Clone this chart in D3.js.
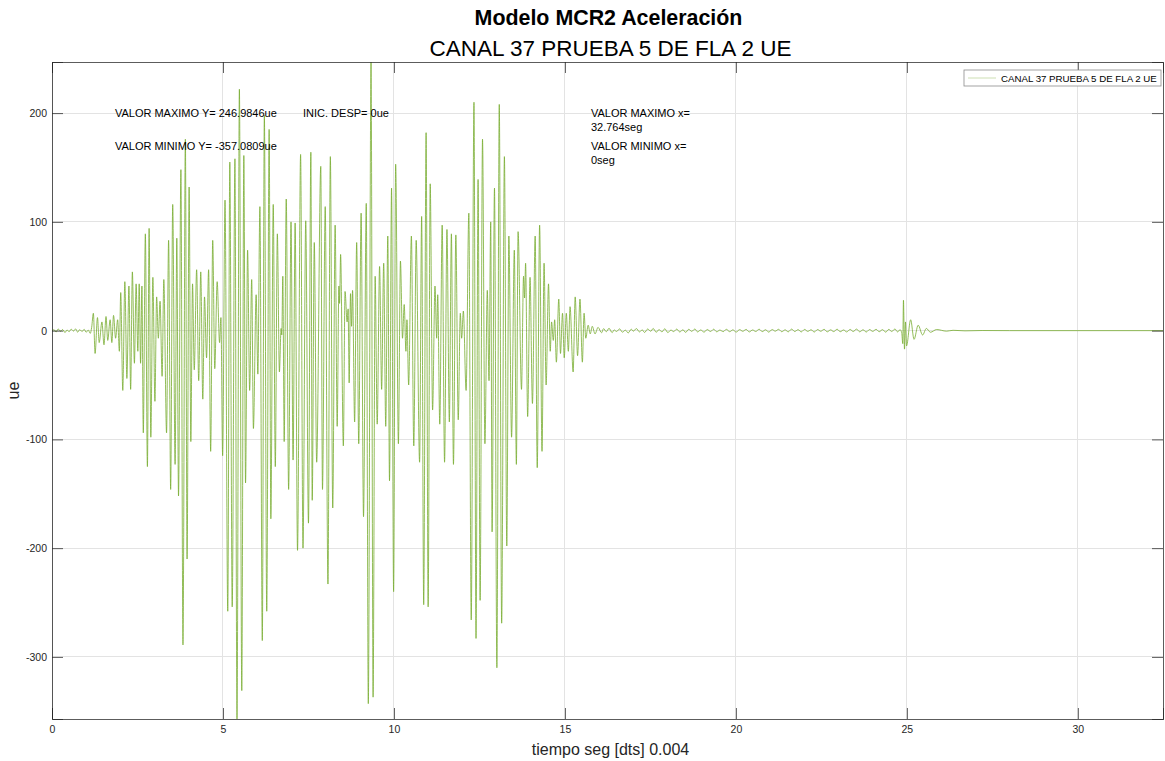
<!DOCTYPE html>
<html>
<head>
<meta charset="utf-8">
<script src="https://cdn.jsdelivr.net/npm/d3@7"></script>
<style>
  html, body { margin: 0; padding: 0; background: #fff; }
  svg { display: block; font-family: "Liberation Sans", Arial, Helvetica, sans-serif; }
</style>
</head>
<body>
<svg id="chart" width="1165" height="761"></svg>
<script>
// Channel 37 acceleration record: [time (s), value (ue)] turning points
const accel = [
  [0, 0], [0.06, 0.8], [0.12, -1.2], [0.18, 1.5], [0.25, -0.5], [0.31, 1.0], [0.38, -1.8],
  [0.44, 0.6], [0.50, -1.0], [0.56, 1.3], [0.63, -0.4], [0.69, 1.6], [0.75, -1.4], [0.81, 0.9],
  [0.88, -0.8], [0.94, 1.2], [1.00, -1.5], [1.06, 0.5], [1.12, -2.5], [1.16, 3],
  [1.21, 16], [1.26, -21], [1.33, 12], [1.38, -11], [1.46, 8], [1.52, -13], [1.58, 13],
  [1.63, -9], [1.70, 10], [1.75, -11], [1.80, 14], [1.86, -7], [1.92, 10], [1.97, -19],
  [2.01, 35], [2.07, -55], [2.13, 45], [2.19, -44], [2.25, 41], [2.30, -54], [2.35, 54],
  [2.41, -30], [2.46, 43], [2.51, -19], [2.55, 43], [2.59, -30], [2.63, 41], [2.67, -94],
  [2.73, 89], [2.79, -125], [2.84, 94], [2.89, -98], [2.95, 49], [3.01, -65], [3.06, 31],
  [3.11, -7], [3.16, 27], [3.22, -42], [3.27, 47], [3.35, -94], [3.41, 83], [3.47, -146],
  [3.53, 116], [3.60, -123], [3.65, 85], [3.70, -152], [3.77, 148], [3.83, -289], [3.90, 176],
  [3.95, -210], [4.01, 132], [4.06, -102], [4.11, 43], [4.16, -36], [4.23, 56], [4.29, -46],
  [4.35, 54], [4.41, -63], [4.46, 31], [4.52, -25], [4.58, 56], [4.64, -111], [4.70, 83],
  [4.76, -35], [4.83, 45], [4.90, -11], [4.94, 12], [4.99, -115], [5.06, 120], [5.14, -258],
  [5.20, 155], [5.27, -254], [5.35, 158], [5.41, -357.0809], [5.48, 222], [5.55, -331],
  [5.61, 161], [5.66, -140], [5.72, 74], [5.78, -55], [5.84, 47], [5.89, -90], [5.97, 33],
  [6.02, -40], [6.08, 114], [6.15, -285], [6.21, 198], [6.28, -258], [6.35, 185], [6.40, -173],
  [6.47, 116], [6.53, -125], [6.59, 89], [6.65, -38], [6.70, 2], [6.72, -4], [6.75, 50],
  [6.79, -102], [6.85, 121], [6.92, -146], [6.99, 100], [7.05, -119], [7.11, 99], [7.18, -202],
  [7.27, 162], [7.34, -200], [7.42, 101], [7.50, -177], [7.57, 164], [7.61, -156], [7.67, 81],
  [7.74, -121], [7.86, 151], [7.91, -146], [7.99, 114], [8.07, -233], [8.14, 160], [8.21, -163],
  [8.28, 97], [8.34, -88], [8.39, 41], [8.41, 25], [8.44, 70], [8.52, -106], [8.57, 36],
  [8.63, 8], [8.66, 20], [8.69, -48], [8.73, 34], [8.76, 4], [8.79, 37], [8.85, -84],
  [8.91, 81], [8.97, -104], [9.04, 108], [9.11, -171], [9.19, 117], [9.25, -343],
  [9.33, 246.9846], [9.39, -337], [9.45, 50], [9.51, -86], [9.58, 59], [9.64, -54], [9.70, 62],
  [9.76, -88], [9.82, 87], [9.87, -138], [9.93, 131], [9.99, -240], [10.05, 153], [10.13, -104],
  [10.19, 64], [10.25, -7], [10.30, 24], [10.35, -19], [10.38, 10], [10.43, -50], [10.51, 87],
  [10.58, -106], [10.65, 83], [10.75, -121], [10.81, 105], [10.87, -252], [10.94, 182],
  [11.00, -254], [11.06, 135], [11.13, -73], [11.20, 41], [11.25, -7], [11.28, 33], [11.34, -86],
  [11.41, 97], [11.48, -121], [11.55, 93], [11.62, -84], [11.68, 89], [11.74, -123], [11.81, 88],
  [11.88, -82], [11.94, 16], [11.98, -7], [12.03, 18], [12.11, -55], [12.19, 108], [12.26, -266],
  [12.34, 210], [12.40, -283], [12.46, 139], [12.52, -248], [12.59, 176], [12.66, -104],
  [12.73, 37], [12.78, -46], [12.83, 100], [12.87, -185], [12.94, 131], [13.01, -310],
  [13.08, 208], [13.15, -269], [13.23, 160], [13.30, -198], [13.36, 87], [13.44, -98],
  [13.52, 74], [13.58, -123], [13.63, 91], [13.73, -54], [13.79, 50], [13.82, 30], [13.85, 62],
  [13.91, -79], [13.98, 49], [14.05, -67], [14.13, 87], [14.19, -126], [14.26, 97], [14.33, -111],
  [14.39, 62], [14.45, -50], [14.52, 43], [14.57, -19], [14.61, 8], [14.66, -9], [14.70, 10],
  [14.75, -29], [14.82, 29], [14.87, -21], [14.93, 16], [14.98, -25], [15.04, 16], [15.10, -19],
  [15.15, 22], [15.24, -38], [15.30, 31], [15.37, -23], [15.44, 29], [15.51, -29], [15.56, 16],
  [15.61, -7], [15.68, 5], [15.74, -3], [15.80, 4], [15.88, -3], [15.97, 3], [16.07, -2],
  [16.13, 1.8], [16.21, -1.0], [16.29, 2.2], [16.38, -1.9], [16.44, 0.6], [16.51, -0.8],
  [16.60, 1.6], [16.68, -1.4], [16.77, 0.4], [16.85, -2.1], [16.94, 1.3], [17.00, -0.5],
  [17.09, 1.9], [17.18, -1.2], [17.26, 0.7], [17.33, -1.7], [17.42, 1.5], [17.51, -0.6],
  [17.58, 2.0], [17.67, -1.5], [17.75, 0.9], [17.84, -1.1], [17.92, 1.7], [18.01, -1.8],
  [18.10, 0.5], [18.18, -0.9], [18.27, 1.4], [18.36, -1.3], [18.45, 0.8], [18.53, -1.6],
  [18.62, 1.2], [18.71, -0.7], [18.80, 1.5], [18.88, -1.2], [18.97, 0.6], [19.07, -1.4],
  [19.16, 1.0], [19.26, -0.8], [19.35, 1.3], [19.44, -1.1], [19.53, 0.5], [19.63, -0.9],
  [19.72, 1.2], [19.82, -1.0], [19.91, 0.7], [20.01, -1.3], [20.11, 0.9], [20.20, -0.6],
  [20.30, 1.1], [20.39, -1.2], [20.49, 0.6], [20.58, -0.8], [20.68, 1.3], [20.77, -0.9],
  [20.87, 0.8], [20.96, -1.4], [21.06, 1.0], [21.15, -0.5], [21.25, 1.2], [21.34, -1.0],
  [21.44, 0.7], [21.53, -1.1], [21.63, 1.4], [21.72, -0.8], [21.82, 0.9], [21.91, -1.2],
  [22.01, 1.1], [22.10, -0.7], [22.20, 0.8], [22.29, -1.3], [22.39, 1.0], [22.48, -0.6],
  [22.58, 1.2], [22.67, -1.1], [22.77, 0.7], [22.86, -0.9], [22.96, 1.3], [23.05, -1.0],
  [23.15, 0.6], [23.24, -1.2], [23.34, 1.1], [23.43, -0.8], [23.53, 1.4], [23.62, -1.1],
  [23.72, 0.8], [23.81, -1.3], [23.91, 1.0], [24.00, -0.7], [24.10, 1.2], [24.19, -1.0],
  [24.29, 0.9], [24.38, -1.4], [24.47, 1.1], [24.56, -0.8], [24.65, 1.5], [24.73, -1.2],
  [24.80, 0.9], [24.85, -2], [24.88, -12], [24.90, 28],
  [24.93, -17], [24.96, 8], [24.99, -14], [25.11, 10], [25.21, -8], [25.33, 5], [25.46, -4],
  [25.57, 2], [25.69, -1.5], [25.87, 1], [26.16, -0.5], [26.35, 0.3], [26.70, -0.2],
  [27.20, 0.1], [28.00, 0], [32.764, 0]
];

const xTicks = [0, 5, 10, 15, 20, 25, 30];
const yTicks = [-300, -200, -100, 0, 100, 200];
const xDomain = [0, 32.49];
const yDomain = [-357.0809, 246.9846];

const titleText = "Modelo MCR2 Aceleración";
const subtitleText = "CANAL 37 PRUEBA 5 DE FLA 2 UE";
const legendLabel = "CANAL 37 PRUEBA 5 DE FLA 2 UE";
const xLabel = "tiempo seg [dts] 0.004";
const yLabel = "ue";

// Text notes placed in data coordinates: [time, value, lines]
const notes = [
  [1.84, 200, ["VALOR MAXIMO Y= 246.9846ue"]],
  [1.84, 170, ["VALOR MINIMO Y= -357.0809ue"]],
  [7.34, 200, ["INIC. DESP= 0ue"]],
  [15.76, 200, ["VALOR MAXIMO x=", "32.764seg"]],
  [15.76, 170, ["VALOR MINIMO x=", "0seg"]]
];

const W = 1165, H = 761;
const margin = { left: 52, right: 2, top: 62, bottom: 42 };
const pw = W - margin.left - margin.right;
const ph = H - margin.top - margin.bottom;

const svg = d3.select("#chart");
const g = svg.append("g").attr("transform", `translate(${margin.left},${margin.top})`);

const x = d3.scaleLinear().domain(xDomain).range([0, pw]);
const y = d3.scaleLinear().domain(yDomain).range([ph, 0]);

const axisColor = "#262626";
const gridColor = "#e3e3e3";
const lineColor = "#77ac30";
const fmt = d => String(d); // plain hyphen-minus labels

// grid
g.append("g").selectAll("line").data(xTicks).join("line")
  .attr("x1", d => x(d)).attr("x2", d => x(d)).attr("y1", 0).attr("y2", ph)
  .attr("stroke", gridColor).attr("stroke-width", 1).attr("shape-rendering", "crispEdges");
g.append("g").selectAll("line").data(yTicks).join("line")
  .attr("x1", 0).attr("x2", pw).attr("y1", d => y(d)).attr("y2", d => y(d))
  .attr("stroke", gridColor).attr("stroke-width", 1).attr("shape-rendering", "crispEdges");

// signal
g.append("clipPath").attr("id", "plotClip")
  .append("rect").attr("width", pw).attr("height", ph);

const line = d3.line()
  .x(d => x(d[0]))
  .y(d => y(d[1]))
  .curve(d3.curveMonotoneX);

g.append("path")
  .datum(accel)
  .attr("clip-path", "url(#plotClip)")
  .attr("fill", "none")
  .attr("stroke", lineColor)
  .attr("stroke-width", 0.8)
  .attr("stroke-linejoin", "round")
  .attr("d", line);

// axes with inward ticks
const tickLen = 11;
const xAxis = g.append("g").attr("transform", `translate(0,${ph})`)
  .call(d3.axisBottom(x).tickValues(xTicks).tickSize(-tickLen).tickPadding(7).tickFormat(fmt));
const yAxis = g.append("g")
  .call(d3.axisLeft(y).tickValues(yTicks).tickSize(-tickLen).tickPadding(5).tickFormat(fmt));
const xTop = g.append("g")
  .call(d3.axisTop(x).tickValues(xTicks).tickSize(-tickLen).tickFormat(""));
const yRight = g.append("g").attr("transform", `translate(${pw},0)`)
  .call(d3.axisRight(y).tickValues(yTicks).tickSize(-tickLen).tickFormat(""));

[xAxis, yAxis, xTop, yRight].forEach(a => {
  a.select(".domain").attr("stroke", axisColor).attr("stroke-width", 1).attr("opacity", 0.75);
  a.selectAll(".tick line").attr("stroke", axisColor).attr("opacity", 0.75);
  a.selectAll(".tick text").attr("fill", axisColor).style("font-size", "10.5px")
    .style("font-family", '"Liberation Sans", Arial, Helvetica, sans-serif');
});

// notes
notes.forEach(([t, v, lines]) => {
  const txt = g.append("text")
    .attr("x", x(t)).attr("y", y(v) + 4)
    .attr("fill", "#000").style("font-size", "11px");
  lines.forEach((s, i) => {
    txt.append("tspan").attr("x", x(t)).attr("dy", i === 0 ? 0 : 14).text(s);
  });
});

// legend
const lg = g.append("g").attr("transform", `translate(${pw - 199},8)`);
lg.append("rect").attr("width", 197).attr("height", 16)
  .attr("fill", "#fff").attr("stroke", "#8c8c8c").attr("stroke-width", 0.8);
lg.append("line").attr("x1", 4).attr("x2", 32).attr("y1", 8).attr("y2", 8)
  .attr("stroke", lineColor).attr("stroke-width", 0.6).attr("opacity", 0.6);
lg.append("text").attr("x", 37).attr("y", 11.5)
  .style("font-size", "9.7px").attr("fill", "#000").text(legendLabel);

// titles and axis labels
const cx = margin.left + pw / 2;
svg.append("text").attr("x", cx + 1).attr("y", 25).attr("text-anchor", "middle")
  .style("font-size", "21.4px").style("font-weight", "bold").attr("fill", "#000").text(titleText);
svg.append("text").attr("x", cx + 3).attr("y", 56).attr("text-anchor", "middle")
  .style("font-size", "22.5px").attr("fill", "#000").text(subtitleText);
svg.append("text").attr("x", cx + 3).attr("y", 755).attr("text-anchor", "middle")
  .style("font-size", "16px").attr("fill", axisColor).text(xLabel);
svg.append("text").attr("transform", `translate(19,${margin.top + ph / 2}) rotate(-90)`)
  .attr("text-anchor", "middle").style("font-size", "16px").attr("fill", axisColor).text(yLabel);
</script>
</body>
</html>
